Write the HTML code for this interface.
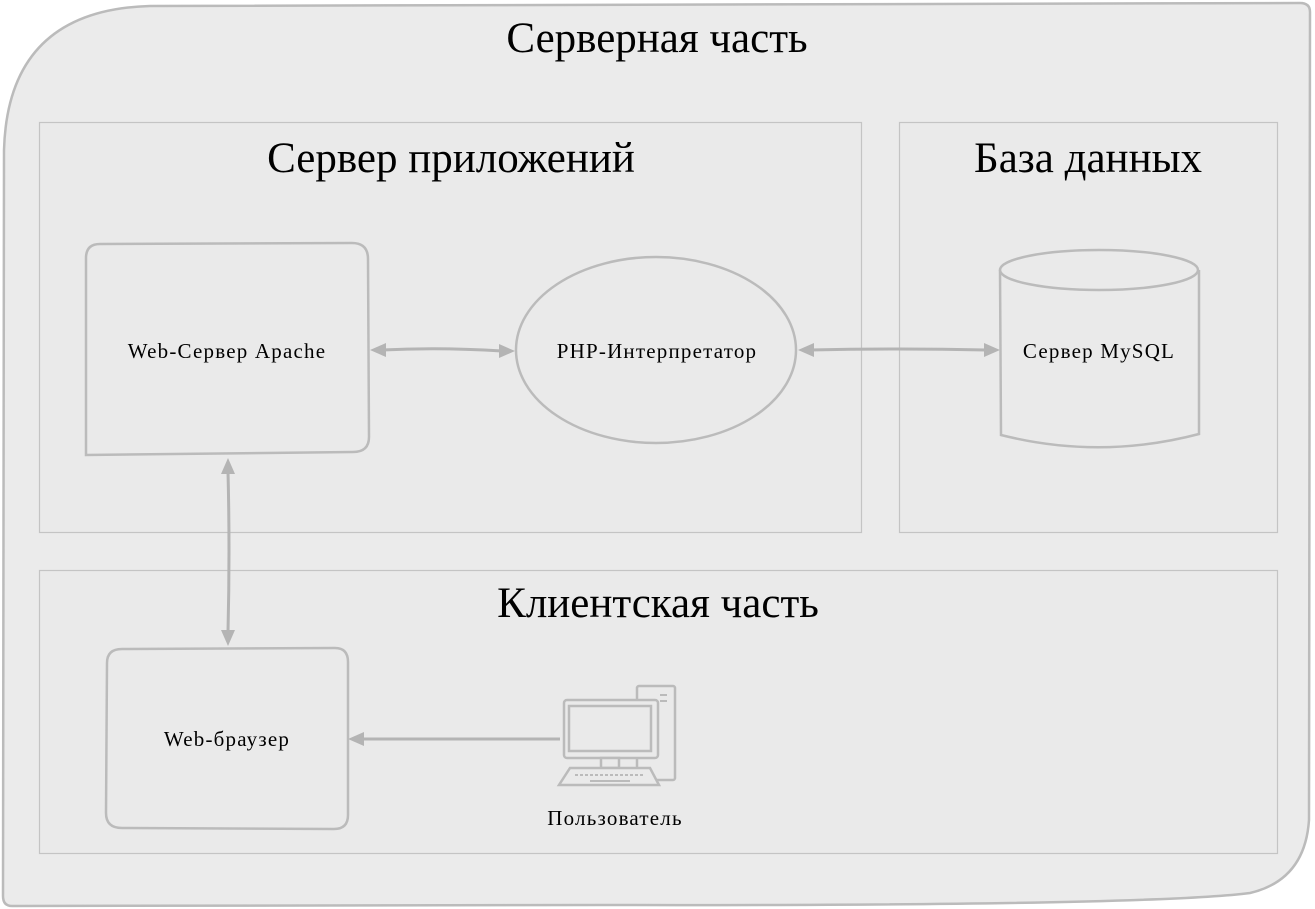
<!DOCTYPE html>
<html><head><meta charset="utf-8"><style>
html,body{margin:0;padding:0;background:#fff;}
svg{display:block;}
text{font-family:"Liberation Serif",serif;fill:#000;}
.l{font-size:21px;letter-spacing:1.2px;}
</style></head><body>
<svg width="1315" height="909" viewBox="0 0 1315 909" xmlns="http://www.w3.org/2000/svg">
<!-- outer -->
<path d="M150,6 L1300,3 Q1310,3 1310,12 L1309,820 Q1305,880 1250,893 Q1150,906 600,905 L12,906 Q3,906 3,896 L4,150 Q8,10 150,6 Z" fill="#ebebeb" stroke="#bbb" stroke-width="2.5"/>
<text x="657" y="52" font-size="43" text-anchor="middle">Серверная часть</text>
<!-- boxes -->
<rect x="39.5" y="122.5" width="822" height="410" fill="#eaeaea" stroke="#c4c4c4" stroke-width="1.2"/>
<rect x="899.5" y="122.5" width="378" height="410" fill="#eaeaea" stroke="#c4c4c4" stroke-width="1.2"/>
<rect x="39.5" y="570.5" width="1238" height="283" fill="#eaeaea" stroke="#c4c4c4" stroke-width="1.2"/>
<text x="451" y="172" font-size="43" text-anchor="middle">Сервер приложений</text>
<text x="1088" y="172" font-size="43" text-anchor="middle">База данных</text>
<text x="658" y="617" font-size="43" text-anchor="middle">Клиентская часть</text>
<!-- apache -->
<path d="M100,244 L352,243 Q368,243 368,259 L369,437 Q369,452 353,452 L86,455 L86,258 Q86,244 100,244 Z" fill="#eaeaea" stroke="#bbb" stroke-width="2.5"/>
<text class="l" x="227" y="358" text-anchor="middle">Web-Сервер Apache</text>
<!-- php -->
<ellipse cx="656" cy="350" rx="140" ry="93" fill="#eaeaea" stroke="#bbb" stroke-width="2.5"/>
<text class="l" x="657" y="358" text-anchor="middle">PHP-Интерпретатор</text>
<!-- mysql -->
<path d="M1000,270 L1001,435 Q1100,460 1199,434 L1199,270" fill="#eaeaea" stroke="#bbb" stroke-width="2.5"/>
<ellipse cx="1099" cy="270" rx="99" ry="20" fill="#eaeaea" stroke="#bbb" stroke-width="2.5"/>
<text class="l" x="1099" y="358" text-anchor="middle">Сервер MySQL</text>
<!-- browser -->
<path d="M122,649 L335,648 Q348,648 348,662 L348,815 Q348,829 334,829 L122,828 Q106,828 106,813 L107,663 Q107,649 122,649 Z" fill="#eaeaea" stroke="#bbb" stroke-width="2.5"/>
<text class="l" x="227" y="746" text-anchor="middle">Web-браузер</text>
<!-- arrows -->
<g stroke="#b4b4b4" stroke-width="3" fill="none">
<path d="M382,350 Q440,347 502,351"/>
<path d="M810,350 Q900,348 986,350"/>
<path d="M228,472 Q230,550 228,632"/>
<path d="M560,739 L364,739"/>
</g>
<g fill="#b4b4b4">
<polygon points="370,350 386,343 386,357"/>
<polygon points="515,351 499,344 499,358"/>
<polygon points="798,350 814,343 814,357"/>
<polygon points="1000,350 984,343 984,357"/>
<polygon points="228,458 221,474 235,474"/>
<polygon points="228,646 221,630 235,630"/>
<polygon points="348,739 364,732 364,746"/>
</g>
<!-- computer -->
<g stroke="#bbb" stroke-width="2.5" fill="#eaeaea">
<rect x="637" y="686" width="38" height="94" rx="2"/>
<rect x="564" y="700" width="94" height="58" rx="3"/>
<rect x="569" y="706" width="82" height="45"/>
<rect x="601" y="758" width="18" height="10"/>
<path d="M570,768 L650,768 L659,785 L559,785 Z"/>
</g>
<g stroke="#bbb" stroke-width="2"><line x1="660" y1="695" x2="667" y2="695"/><line x1="660" y1="701" x2="667" y2="701"/>
<line x1="575" y1="775" x2="645" y2="775" stroke-dasharray="3,2"/><line x1="590" y1="781" x2="630" y2="781"/></g>
<text class="l" x="615" y="825" text-anchor="middle">Пользователь</text>
</svg>
</body></html>
